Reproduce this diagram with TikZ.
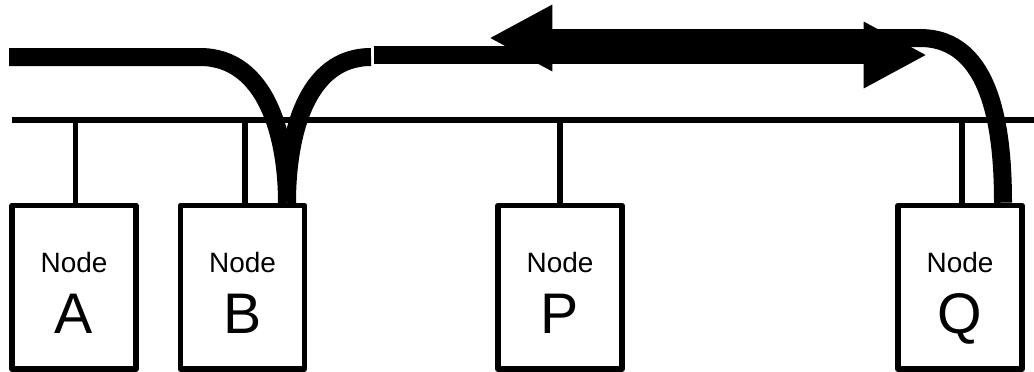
\documentclass[tikz,border=0pt]{standalone}
\usepackage{fontspec}
\setmainfont{Liberation Sans}
\usetikzlibrary{arrows.meta, positioning, calc}

\begin{document}
\begin{tikzpicture}[
        x=0.025cm, y=-0.025cm,
        box/.style={draw, line width=3.9pt, line join=round, minimum width=3.1cm, minimum height=4.0875cm, inner sep=0pt},
        wire/.style={line width=3.9pt},
        flow/.style={line width=12.8pt},
        bigtip/.style={-{Triangle[length=45pt, width=44pt]}},
        nodetext/.style={font=\fontsize{19.9}{22}\selectfont, anchor=base, inner sep=0pt},
        nodeletter/.style={font=\fontsize{40.7}{44}\selectfont, anchor=base, inner sep=0pt}
    ]
    \useasboundingbox (0,0) rectangle (1034,371);

    % stations
    \node[box] (A) at (74,287.25) {};
    \node[box] (B) at (242.5,287.25) {};
    \node[box] (P) at (560,287.25) {};
    \node[box] (Q) at (960,287.25) {};

    \node[nodetext] (A-t) at ($(A.center)+(0,-15.25)$) {Node};
    \node[nodeletter] (A-l) at ($(A.center)+(0,45.75)$) {A};
    \node[nodetext] (B-t) at ($(B.center)+(0,-15.25)$) {Node};
    \node[nodeletter] (B-l) at ($(B.center)+(0,45.75)$) {B};
    \node[nodetext] (P-t) at ($(P.center)+(0,-15.25)$) {Node};
    \node[nodeletter] (P-l) at ($(P.center)+(0,45.75)$) {P};
    \node[nodetext] (Q-t) at ($(Q.center)+(0,-15.25)$) {Node};
    \node[nodeletter] (Q-l) at ($(Q.center)+(0,45.75)$) {Q};

    % bus and drops
    \coordinate (busL) at (12,120);
    \coordinate (busR) at (1034,120);
    \draw[wire] (busL) -- (busR);
    \draw[wire] ($(A.north)+(1.5,0)$) -- ($(A.north |- busL)+(1.5,0)$);
    \draw[wire] ($(B.north)+(2.5,0)$) -- ($(B.north |- busL)+(2.5,0)$);
    \draw[wire] (P.north) -- (P.north |- busL);
    \draw[wire] ($(Q.north)+(2,0)$) -- ($(Q.north |- busL)+(2,0)$);

    % traffic
    \coordinate (Bport) at ($(B.north)+(44.5,0)$);
    \coordinate (Qport) at ($(Q.north)+(43,0)$);
    \coordinate (inL) at (9,57);
    \coordinate (outB) at (371,57);
    \coordinate (fwdS) at (373.5,55);
    \coordinate (fwdE) at (927,55);
    \coordinate (backE) at (489,38);

    \draw[flow] (inL) -- (200,57) to[out=0, in=90] (Bport);
    \draw[flow] (Bport) to[out=90, in=180] (outB);
    \draw[flow, bigtip] (fwdS) -- (fwdE);
    \draw[flow, bigtip] (Qport) to[out=90, in=0] (920,38) -- (backE);
\end{tikzpicture}
\end{document}
